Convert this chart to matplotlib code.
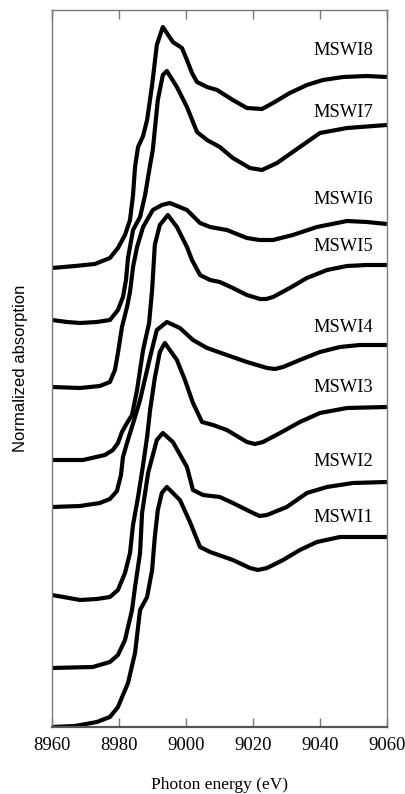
import matplotlib
matplotlib.use("Agg")
import matplotlib.pyplot as plt

# photon energy (eV) and normalized absorption (offset, a.u.)
e_mswi1 = [8960, 8966.9, 8973.4, 8977.3, 8979.7, 8982.7, 8984.8, 8986.3, 8988.4, 8989.9, 8990.7,
           8991.6, 8992.8, 8994.3, 8998.2, 9001.2, 9004.2, 9007.2, 9014.0, 9019.1, 9021.5, 9024.2,
           9029.0, 9034.0, 9039.1, 9046.0, 9060]
a_mswi1 = [0.00, 0.01, 0.05, 0.10, 0.20, 0.44, 0.74, 1.17, 1.30, 1.57, 1.90,
           2.17, 2.34, 2.40, 2.27, 2.05, 1.80, 1.75, 1.67, 1.59, 1.57, 1.59,
           1.67, 1.77, 1.85, 1.90, 1.90]

e_mswi2 = [8960, 8972.2, 8977.3, 8979.7, 8981.8, 8983.9, 8984.8, 8986.3, 8986.9, 8988.7, 8991.3,
           8993.1, 8996.1, 9000.3, 9002.1, 9005.1, 9010.1, 9014.0, 9020.0, 9022.0, 9024.2, 9030.1,
           9036.1, 9042.1, 9049.9, 9060]
a_mswi2 = [0.59, 0.60, 0.65, 0.72, 0.87, 1.17, 1.40, 1.74, 2.14, 2.54, 2.87,
           2.94, 2.85, 2.60, 2.37, 2.32, 2.30, 2.24, 2.14, 2.11, 2.12, 2.20,
           2.34, 2.40, 2.44, 2.45]

e_mswi3 = [8960, 8968.4, 8973.4, 8977.3, 8979.7, 8981.8, 8983.3, 8984.2, 8985.7, 8987.2, 8988.4,
           8989.3, 8990.7, 8992.2, 8993.7, 8997.3, 8999.7, 9002.1, 9004.8, 9008.1, 9012.2, 9018.2,
           9020.6, 9023.0, 9028.1, 9034.0, 9040.0, 9048.1, 9060]
a_mswi3 = [1.32, 1.27, 1.28, 1.30, 1.37, 1.54, 1.74, 2.02, 2.30, 2.62, 2.90,
           3.17, 3.49, 3.75, 3.84, 3.67, 3.47, 3.24, 3.05, 3.02, 2.97, 2.85,
           2.83, 2.85, 2.94, 3.05, 3.14, 3.19, 3.20]

e_mswi4 = [8960, 8968.4, 8974.3, 8977.3, 8979.4, 8980.6, 8981.2, 8982.4, 8983.6, 8984.8, 8986.3,
           8989.3, 8991.3, 8994.3, 8998.2, 9002.1, 9006.3, 9012.2, 9018.2, 9024.2, 9026.6, 9029.0,
           9034.0, 9040.0, 9046.0, 9051.9, 9060]
a_mswi4 = [2.20, 2.21, 2.24, 2.28, 2.36, 2.52, 2.70, 2.84, 2.97, 3.10, 3.27,
           3.70, 3.97, 4.05, 3.99, 3.87, 3.79, 3.72, 3.65, 3.59, 3.58, 3.60,
           3.67, 3.75, 3.80, 3.82, 3.82]

e_mswi5 = [8960, 8969.3, 8975.8, 8978.2, 8979.7, 8980.9, 8982.4, 8983.9, 8985.4, 8987.2, 8989.0,
           8989.9, 8990.7, 8992.2, 8994.6, 8997.3, 9000.3, 9001.8, 9004.2, 9007.2, 9010.1, 9014.0,
           9018.2, 9022.1, 9024.0, 9026.0, 9031.0, 9036.1, 9042.1, 9048.1, 9054.0, 9060]
a_mswi5 = [2.67, 2.67, 2.72, 2.77, 2.84, 2.95, 3.04, 3.12, 3.37, 3.77, 4.04,
           4.37, 4.82, 5.02, 5.12, 5.00, 4.80, 4.67, 4.52, 4.47, 4.45, 4.39,
           4.32, 4.28, 4.28, 4.30, 4.39, 4.49, 4.57, 4.61, 4.62, 4.62]

e_mswi6 = [8960, 8968.4, 8974.3, 8977.3, 8978.8, 8979.7, 8980.9, 8982.4, 8983.3, 8984.2, 8985.4,
           8987.2, 8990.1, 8992.8, 8995.2, 9000.3, 9004.2, 9007.2, 9012.2, 9018.2, 9022.0, 9026.0,
           9031.9, 9039.1, 9048.1, 9054.0, 9060]
a_mswi6 = [3.40, 3.39, 3.41, 3.45, 3.57, 3.74, 4.00, 4.20, 4.35, 4.60, 4.80,
           5.00, 5.17, 5.22, 5.24, 5.17, 5.04, 5.00, 4.97, 4.89, 4.87, 4.87,
           4.92, 5.00, 5.06, 5.05, 5.03]

e_mswi7 = [8960, 8964.5, 8968.4, 8973.4, 8977.3, 8979.7, 8981.2, 8982.1, 8982.7, 8984.2, 8986.3,
           8987.8, 8989.3, 8990.1, 8991.6, 8993.1, 8994.3, 8997.3, 9000.3, 9003.3, 9006.3, 9010.1,
           9014.0, 9019.1, 9022.7, 9027.2, 9034.0, 9040.0, 9048.1, 9060]
a_mswi7 = [4.07, 4.05, 4.04, 4.05, 4.07, 4.17, 4.30, 4.47, 4.69, 4.97, 5.10,
           5.32, 5.62, 5.77, 6.27, 6.52, 6.56, 6.40, 6.20, 5.95, 5.87, 5.80,
           5.69, 5.59, 5.57, 5.64, 5.80, 5.94, 5.99, 6.02]

e_mswi8 = [8960, 8966.9, 8972.8, 8977.3, 8979.7, 8981.8, 8983.3, 8984.2, 8984.8, 8985.7, 8987.2,
           8988.4, 8989.9, 8991.3, 8993.1, 8996.1, 8998.8, 9000.3, 9001.8, 9003.3, 9006.3, 9009.3,
           9014.0, 9018.2, 9022.7, 9026.0, 9031.0, 9036.1, 9040.9, 9046.9, 9054.0, 9060]
a_mswi8 = [4.59, 4.61, 4.63, 4.69, 4.79, 4.92, 5.07, 5.32, 5.60, 5.80, 5.91,
           6.07, 6.42, 6.82, 7.00, 6.85, 6.79, 6.67, 6.54, 6.45, 6.40, 6.37,
           6.27, 6.19, 6.18, 6.24, 6.34, 6.42, 6.47, 6.50, 6.51, 6.50]

labels = ["MSWI1", "MSWI2", "MSWI3", "MSWI4", "MSWI5", "MSWI6", "MSWI7", "MSWI8"]
energies = [e_mswi1, e_mswi2, e_mswi3, e_mswi4, e_mswi5, e_mswi6, e_mswi7, e_mswi8]
spectra = [a_mswi1, a_mswi2, a_mswi3, a_mswi4, a_mswi5, a_mswi6, a_mswi7, a_mswi8]
label_y = [2.09, 2.65, 3.39, 3.99, 4.80, 5.27, 6.15, 6.77]
xticks = [8960, 8980, 9000, 9020, 9040, 9060]

serif = "Liberation Serif"
spine_col = "#7a7a7a"

fig = plt.figure(figsize=(4.06, 7.94), dpi=100)
ax = fig.add_axes([0.128, 0.0844, 0.825, 0.903])

for e, a in zip(energies, spectra):
    ax.plot(e, a, color="black", lw=3.0, solid_joinstyle="round", solid_capstyle="butt")

for lab, y in zip(labels, label_y):
    ax.text(9055.8, y, lab, ha="right", va="center", fontsize=13.3, family=serif)

ax.set_xlim(8960, 9060)
ax.set_ylim(0, 7.17)
ax.set_xticks(xticks)
ax.set_yticks([])
ax.tick_params(axis="x", direction="in", length=6.5, width=1.0, color=spine_col,
               top=True, bottom=True, pad=7.5)
for lab in ax.get_xticklabels():
    lab.set_family(serif)
    lab.set_fontsize(13.5)
for side in ["left", "right", "top"]:
    ax.spines[side].set_color(spine_col)
    ax.spines[side].set_linewidth(1.0)
ax.spines["bottom"].set_color("#555555")
ax.spines["bottom"].set_linewidth(1.6)

ax.set_xlabel("Photon energy (eV)", family=serif, fontsize=12.5, labelpad=16)
ax.set_ylabel("Normalized absorption", family="Liberation Sans", fontsize=12, labelpad=17)

fig.savefig("out.png", dpi=100)
